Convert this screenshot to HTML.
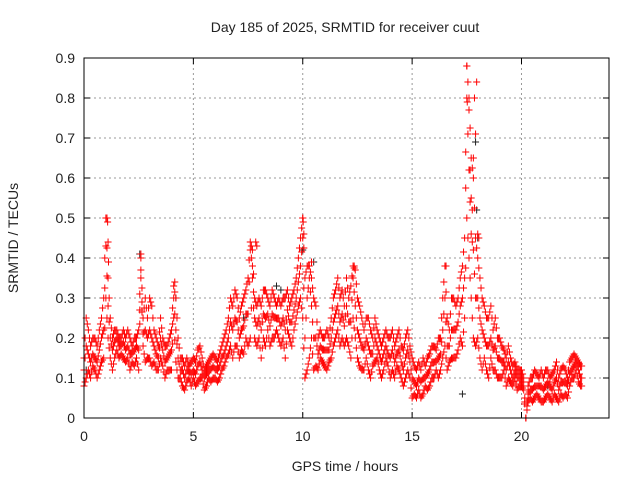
<!DOCTYPE html>
<html><head><meta charset="utf-8"><style>
body{margin:0;background:#fff;}
svg text{font-family:"Liberation Sans",sans-serif;font-size:14px;fill:#222;}
</style></head><body>
<svg id="chart" width="640" height="480" xmlns="http://www.w3.org/2000/svg">
<text x="345" y="32" text-anchor="middle">Day 185 of 2025, SRMTID for receiver cuut</text>
<text x="345" y="471" text-anchor="middle">GPS time / hours</text>
<text transform="translate(18,238) rotate(-90)" text-anchor="middle">SRMTID / TECUs</text>
<g id="grid"></g><g id="ticks"></g><g id="marks"></g>
<rect x="84" y="58" width="525" height="360" fill="none" stroke="#000" stroke-width="1"/>
</svg>
<script>
const xTicks=[0,5,10,15,20];
const yTicks=[0,0.1,0.2,0.3,0.4,0.5,0.6,0.7,0.8,0.9];
const yTickLabels=["0","0.1","0.2","0.3","0.4","0.5","0.6","0.7","0.8","0.9"];
const timeStep=0.1;
const srmtidUpper=[
.15,.25,.22,.18,.2,.2,.18,.22,.25,.3,
.5,.35,.25,.2,.22,.22,.2,.2,.22,.2,
.22,.2,.18,.2,.2,.22,.4,.25,.3,.25,
.3,.28,.22,.2,.18,.25,.2,.18,.18,.2,
.22,.33,.3,.2,.15,.15,.13,.15,.13,.14,
.15,.14,.17,.18,.15,.12,.13,.14,.15,.16,
.15,.14,.16,.18,.2,.22,.25,.3,.28,.32,
.3,.25,.28,.3,.32,.35,.44,.42,.3,.28,
.3,.28,.32,.32,.3,.28,.32,.3,.28,.3,
.28,.3,.3,.32,.28,.3,.32,.35,.4,.45,
.5,.35,.38,.38,.35,.3,.28,.2,.22,.2,
.2,.22,.2,.25,.3,.32,.35,.3,.32,.28,
.35,.3,.33,.38,.37,.3,.28,.25,.22,.25,
.25,.22,.2,.25,.22,.2,.18,.2,.22,.2,
.2,.22,.18,.2,.22,.18,.17,.2,.22,.18,
.15,.13,.12,.14,.12,.15,.13,.15,.16,.18,
.18,.17,.2,.2,.3,.38,.25,.22,.3,.3,
.28,.3,.35,.38,.45,.88,.8,.65,.6,.45,
.4,.35,.3,.28,.25,.25,.28,.22,.25,.2,
.2,.18,.17,.15,.18,.15,.13,.14,.12,.12,
.12,.1,0,.08,.1,.1,.12,.11,.1,.12,
.1,.12,.12,.1,.11,.12,.14,.1,.12,.13,
.12,.1,.14,.15,.16,.15,.14,.13];
const srmtidLower=[
.08,.1,.12,.1,.13,.12,.1,.12,.14,.15,
.3,.2,.15,.12,.15,.17,.15,.16,.15,.14,
.15,.12,.14,.13,.15,.12,.35,.18,.14,.15,
.15,.13,.14,.12,.12,.15,.13,.1,.12,.12,
.12,.25,.14,.1,.1,.08,.07,.09,.1,.08,
.1,.08,.09,.1,.1,.07,.08,.1,.09,.1,
.1,.09,.1,.12,.13,.15,.16,.18,.15,.18,
.18,.15,.17,.16,.2,.18,.2,.35,.2,.18,
.2,.15,.2,.18,.22,.18,.2,.2,.22,.2,
.18,.2,.15,.22,.2,.18,.22,.25,.28,.3,
.25,.1,.12,.15,.2,.12,.13,.12,.15,.14,
.13,.12,.14,.15,.18,.2,.22,.18,.2,.18,
.2,.18,.15,.25,.2,.15,.13,.12,.12,.15,
.12,.1,.13,.14,.15,.12,.1,.12,.15,.13,
.1,.12,.1,.13,.12,.1,.08,.1,.12,.1,
.05,.06,.05,.07,.05,.06,.08,.07,.08,.1,
.1,.12,.1,.12,.15,.18,.12,.14,.15,.15,
.15,.17,.2,.18,.25,.5,.4,.3,.2,.18,
.2,.15,.12,.15,.12,.1,.15,.12,.12,.1,
.1,.1,.12,.08,.1,.09,.08,.1,.07,.08,
.08,.07,0,.04,.05,.04,.05,.06,.05,.04,
.04,.05,.06,.05,.04,.06,.05,.04,.06,.05,
.06,.05,.08,.1,.1,.12,.09,.08];
const srmtidMid=[
.12,.18,.16,.14,.16,.15,.14,.17,.2,.22,
.43,.28,.2,.17,.19,.2,.18,.18,.19,.17,
.18,.16,.16,.17,.18,.17,.37,.21,.22,.2,
.22,.2,.18,.16,.15,.2,.17,.14,.15,.16,
.17,.3,.22,.15,.12,.12,.1,.12,.12,.11,
.12,.11,.13,.14,.12,.1,.11,.12,.12,.13,
.12,.12,.13,.15,.16,.18,.2,.24,.22,.25,
.24,.2,.22,.23,.26,.26,.42,.38,.25,.23,
.25,.22,.26,.25,.26,.23,.26,.25,.25,.25,
.23,.25,.22,.27,.24,.24,.27,.3,.34,.38,
.45,.2,.3,.35,.28,.2,.2,.16,.18,.17,
.17,.17,.17,.2,.24,.26,.28,.24,.26,.23,
.28,.24,.24,.35,.28,.22,.2,.18,.17,.2,
.18,.16,.16,.2,.18,.16,.14,.16,.18,.16,
.15,.17,.14,.16,.17,.14,.12,.15,.17,.14,
.1,.09,.08,.1,.09,.1,.1,.11,.12,.14,
.14,.14,.15,.16,.22,.3,.18,.18,.22,.22,
.22,.24,.28,.3,.35,.8,.62,.46,.42,.3,
.3,.25,.22,.2,.18,.18,.2,.17,.18,.15,
.15,.14,.14,.12,.14,.12,.1,.12,.1,.1,
.1,.08,0,.06,.07,.07,.08,.08,.08,.08,
.07,.08,.09,.08,.07,.09,.1,.07,.09,.09,
.09,.08,.11,.12,.13,.14,.12,.1];
const spikeTimes=[1.05,1.08,1.1,1.12,2.6,4.15,7.85,7.9,10.0,10.02,10.05,10.4,12.35,16.55,17.5,17.52,17.6,17.65,17.7,17.75,17.8,17.85,17.9,17.95,18.0,18.05];
const spikeValues=[0.5,0.49,0.44,0.39,0.41,0.34,0.44,0.43,0.5,0.49,0.46,0.39,0.38,0.38,0.88,0.79,0.77,0.62,0.55,0.52,0.65,0.8,0.71,0.84,0.46,0.45];
const blackTimes=[0.1,2.55,7.3,8.8,9.0,10.0,10.5,17.9,17.95,18.0,17.3,21.2,4.2];
const blackValues=[0.12,0.41,0.25,0.33,0.32,0.42,0.39,0.69,0.52,0.45,0.06,0.08,0.3];

const X0=84,X1=609,Y0=418,Y1=58,XMAX=24,YMAX=0.9;
const xs=v=>X0+(X1-X0)*v/XMAX;
const ys=v=>Y0-(Y0-Y1)*v/YMAX;
const NS="http://www.w3.org/2000/svg";
const grid=document.getElementById('grid'),ticks=document.getElementById('ticks'),marks=document.getElementById('marks');
function mk(tag,attrs,parent){const e=document.createElementNS(NS,tag);for(const k in attrs)e.setAttribute(k,attrs[k]);parent.appendChild(e);return e;}
xTicks.forEach(t=>{
  const x=xs(t);
  if(t>0){const g=mk('line',{x1:x,x2:x,y1:Y1,y2:Y0,stroke:'#999','stroke-dasharray':'2,3'},grid);
  
  }
  mk('line',{x1:x,x2:x,y1:Y0,y2:Y0-6,stroke:'#000'},ticks);
  mk('line',{x1:x,x2:x,y1:Y1,y2:Y1+6,stroke:'#000'},ticks);
  const tx=mk('text',{x:x,y:Y0+23,'text-anchor':'middle'},ticks);tx.textContent=t;
  
  
});
yTicks.forEach((t,i)=>{
  const y=ys(t);
  if(t>0&&t<YMAX-1e-9){const g=mk('line',{x1:X0,x2:X1,y1:y,y2:y,stroke:'#999','stroke-dasharray':'2,3'},grid);
  
  }
  mk('line',{x1:X0,x2:X0+6,y1:y,y2:y,stroke:'#000'},ticks);
  mk('line',{x1:X1,x2:X1-6,y1:y,y2:y,stroke:'#000'},ticks);
  const tx=mk('text',{x:X0-9,y:y+5,'text-anchor':'end'},ticks);tx.textContent=yTickLabels[i];
  
  
});
function plus(t,v,color,name){
  const x=xs(t),y=ys(v);
  const p=mk('path',{d:`M${x-3.5},${y}H${x+3.5}M${x},${y-3.5}V${y+3.5}`,stroke:color,'stroke-width':1,fill:'none'},marks);
  
  
}
blackTimes.forEach((t,i)=>plus(t,blackValues[i],'#222','black-point'));
[srmtidUpper,srmtidLower,srmtidMid].forEach(arr=>arr.forEach((v,i)=>{
  const t=i*timeStep;
  plus(t,v,'#f00','srmtid-point');
  plus(t+timeStep/2,(v+(arr[i+1]!==undefined?arr[i+1]:v))/2,'#f00','srmtid-point');
}));
spikeTimes.forEach((t,i)=>plus(t,spikeValues[i],'#f00','spike-point'));
</script>
</body></html>
